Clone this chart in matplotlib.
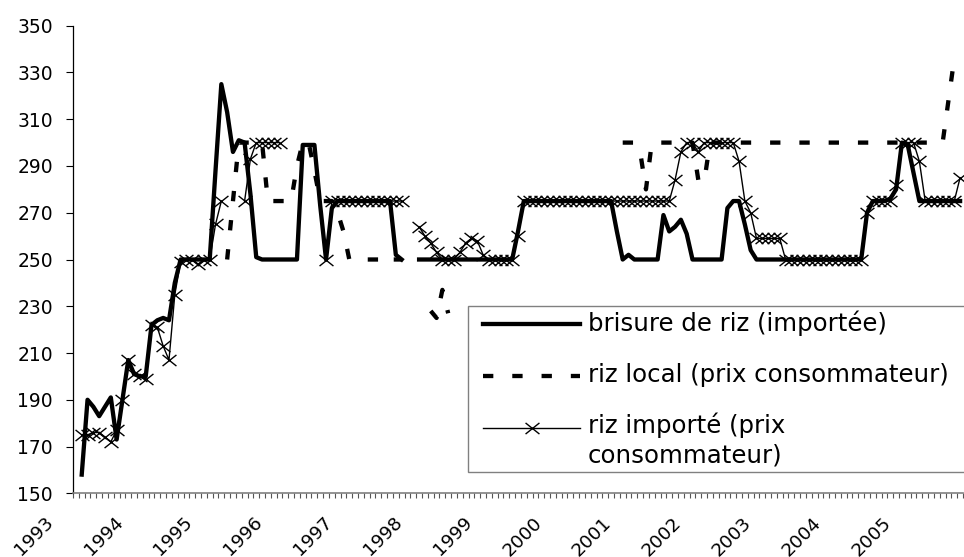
import numpy as np
import matplotlib
matplotlib.use("Agg")
import matplotlib.pyplot as plt
from matplotlib.lines import Line2D
from matplotlib.patches import Rectangle
from matplotlib.path import Path
from matplotlib.transforms import ScaledTranslation

nan = np.nan

years = [str(y) for y in range(1993, 2006)]

# monthly prices, one row per year (first month of 1993 is empty)
brisure = [
    nan, 158, 190, 187, 183, 187, 191, 173, 190, 207, 201, 200,  # 1993
    200, 222, 224, 225, 224, 240, 250, 250, 250, 250, 250, 250,  # 1994
    288, 325, 313, 296, 301, 300, 278, 251, 250, 250, 250, 250,  # 1995
    250, 250, 250, 299, 299, 299, 273, 250, 272, 275, 275, 275,  # 1996
    275, 275, 275, 275, 275, 275, 275, 252, 250, nan, nan, 250,  # 1997
    250, 250, 250, 250, 250, 250, 250, 250, 250, 250, 250, 250,  # 1998
    250, 250, 250, 250, 262, 275, 275, 275, 275, 275, 275, 275,  # 1999
    275, 275, 275, 275, 275, 275, 275, 275, 275, 262, 250, 252,  # 2000
    250, 250, 250, 250, 250, 269, 262, 264, 267, 261, 250, 250,  # 2001
    250, 250, 250, 250, 272, 275, 275, 265, 254, 250, 250, 250,  # 2002
    250, 250, 250, 250, 250, 250, 250, 250, 250, 250, 250, 250,  # 2003
    250, 250, 250, 250, 270, 275, 275, 275, 276, 280, 300, 299,  # 2004
    287, 275, 275, 275, 275, 275, 275, 275, 275,                 # 2005
]

riz_local = [
    nan, nan, nan, nan, nan, nan, nan, nan, nan, nan, nan, nan,  # 1993
    nan, nan, nan, nan, nan, nan, nan, nan, nan, nan, nan, nan,  # 1994
    nan, nan, 250, 275, 300, 300, 300, 300, 300, 275, 275, 275,  # 1995
    275, 275, 290, 300, 300, 288, 275, 275, 275, 270, 262, 250,  # 1996
    250, 250, 250, 250, 250, 248, 250, 250, 250, nan, nan, nan,  # 1997
    nan, 228, 225, 237, 227, nan, nan, nan, nan, nan, nan, nan,  # 1998
    nan, nan, nan, nan, nan, nan, nan, nan, nan, nan, nan, nan,  # 1999
    nan, nan, nan, nan, nan, nan, nan, nan, nan, nan, 300, 300,  # 2000
    300, 296, 280, 300, 300, 300, 300, 300, 300, 300, 300, 284,  # 2001
    283, 300, 300, 300, 300, 300, 300, 300, 300, 300, 300, 300,  # 2002
    300, 300, 300, 300, 300, 300, 300, 300, 300, 300, 300, 300,  # 2003
    300, 300, 300, 300, 300, 300, 300, 300, 300, 300, 300, 300,  # 2004
    300, 300, 300, 300, 300, 300, 318, 336, nan,                 # 2005
]

riz_importe = [
    nan, 175, 175, 176, 176, 174, 172, 177, 190, 207, 201, 200,  # 1993
    199, 222, 221, 213, 207, 235, 249, 250, 250, 248, 250, 250,  # 1994
    265, 275, nan, nan, nan, 275, 293, 300, 300, 300, 300, 300,  # 1995
    nan, nan, nan, nan, nan, nan, nan, 250, 275, 275, 275, 275,  # 1996
    275, 275, 275, 275, 275, 275, 275, 275, 275, nan, nan, 264,  # 1997
    260, 257, 253, 250, 250, 250, 253, 257, 259, 258, 252, 250,  # 1998
    250, 250, 250, 250, 260, 275, 275, 275, 275, 275, 275, 275,  # 1999
    275, 275, 275, 275, 275, 275, 275, 275, 275, 275, 275, 275,  # 2000
    275, 275, 275, 275, 275, 275, 275, 284, 296, 300, 300, 296,  # 2001
    300, 300, 300, 300, 300, 300, 292, 275, 270, 259, 259, 259,  # 2002
    259, 259, 250, 250, 250, 250, 250, 250, 250, 250, 250, 250,  # 2003
    250, 250, 250, 250, 270, 275, 275, 275, 275, 282, 300, 300,  # 2004
    300, 292, 275, 275, 275, 275, 275, 275, 285,                 # 2005
]

labels = ["brisure de riz (importée)",
          "riz local (prix consommateur)",
          "riz importé (prix", "consommateur)"]

W, H = 964, 557
DASH = (0, (2.4, 4.4))

# wide x, like the stretched excel marker
xmark = Path([(-1.25, -1), (1.25, 1), (-1.25, 1), (1.25, -1)],
             [Path.MOVETO, Path.LINETO, Path.MOVETO, Path.LINETO])


def fx(px):
    return px / W


def fy(py):
    return 1 - py / H


def main():
    fig = plt.figure(figsize=(W / 100, H / 100), dpi=100)
    ax = fig.add_axes([fx(73), fy(493.3), 890 / W, (493.3 - 25.7) / H])

    x = np.arange(len(brisure))
    ax.plot(x, brisure, color="black", lw=3.1, solid_joinstyle="round", zorder=2)
    ax.plot(x, riz_local, color="black", lw=3.1, linestyle=DASH, zorder=3)
    ax.plot(x, riz_importe, color="black", lw=1.0, marker=xmark, markersize=10,
            markeredgewidth=1.0, markerfacecolor="none", zorder=4)

    ax.set_xlim(-0.5, len(brisure) - 0.5)
    ax.set_ylim(150, 350)
    ax.set_yticks(range(150, 351, 20))

    for side in ("top", "right"):
        ax.spines[side].set_visible(False)
    ax.spines["left"].set_color("black")
    ax.spines["left"].set_linewidth(0.9)
    ax.spines["bottom"].set_color("#808080")
    ax.spines["bottom"].set_linewidth(1.2)

    ax.tick_params(axis="y", direction="out", length=5, width=0.8,
                   pad=9.4, labelsize=13.5)

    ax.set_xticks(np.arange(0, len(brisure), 12))
    ax.set_xticklabels(years, rotation=45, ha="right", va="center",
                       rotation_mode="anchor", fontsize=13.3)
    ax.set_xticks(np.arange(-0.5, len(brisure), 1), minor=True)
    ax.tick_params(axis="x", which="major", length=0, pad=19.0)
    ax.tick_params(axis="x", which="minor", direction="out", length=3.6,
                   width=0.8, color="#555555")
    shift = ScaledTranslation(-25.6 / 100, 0, fig.dpi_scale_trans)
    for lab in ax.get_xticklabels():
        lab.set_transform(lab.get_transform() + shift)

    # legend drawn by hand: excel puts the marker line on the first text row
    tf = fig.transFigure
    fig.patches.append(Rectangle((fx(467.7), fy(471.7)), fx(520), 165.7 / H,
                                 transform=tf, facecolor="white",
                                 edgecolor="#808080", lw=1.0, zorder=5))
    rows = [324, 376, 428]
    fig.lines.append(Line2D([fx(483), fx(580)], [fy(rows[0])] * 2, transform=tf,
                            color="black", lw=3.1, zorder=6))
    fig.lines.append(Line2D([fx(483), fx(580)], [fy(rows[1])] * 2, transform=tf,
                            color="black", lw=3.1, linestyle=DASH, zorder=6))
    fig.lines.append(Line2D([fx(483), fx(580)], [fy(rows[2])] * 2, transform=tf,
                            color="black", lw=1.0, zorder=6))
    fig.lines.append(Line2D([fx(531.7)], [fy(rows[2])], transform=tf,
                            color="black", marker=xmark, markersize=10,
                            markeredgewidth=1.0, markerfacecolor="none",
                            linestyle="none", zorder=6))
    baselines = [331, 382, 433, 462]
    for lab, b in zip(labels, baselines):
        fig.text(fx(588), fy(b), lab, va="baseline", ha="left",
                 fontsize=17.6, zorder=7)

    fig.savefig("out.png", dpi=100)


if __name__ == "__main__":
    main()
